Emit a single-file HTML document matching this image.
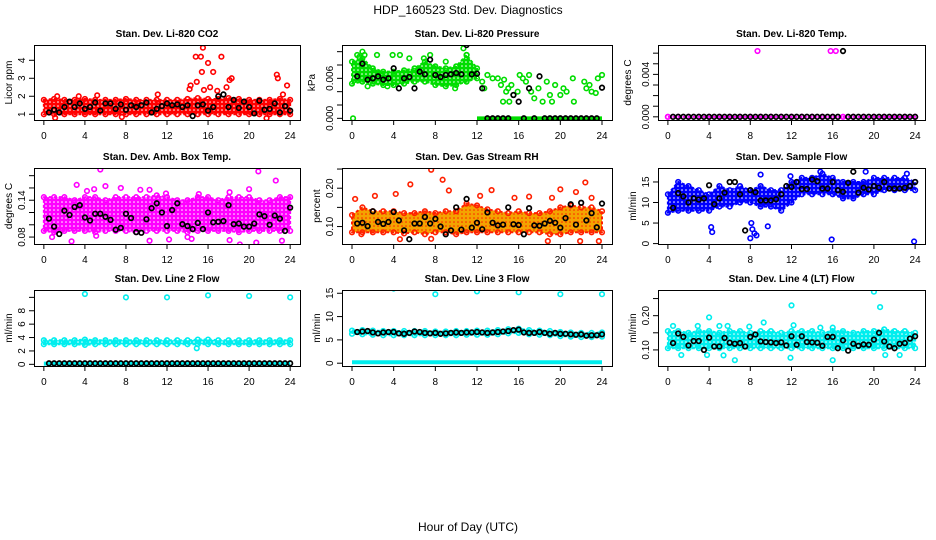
<!DOCTYPE html>
<html><head><meta charset="utf-8"><style>
html,body{margin:0;padding:0;background:#fff}
svg{display:block;font-family:"Liberation Sans",Arial,sans-serif}
</style></head><body>
<svg id="chart" width="936" height="540" viewBox="0 0 936 540" xmlns="http://www.w3.org/2000/svg">
<rect width="936" height="540" fill="#fff"/>
<text x="468" y="14" text-anchor="middle" font-size="12">HDP_160523  Std. Dev. Diagnostics</text>
<text x="468" y="531" text-anchor="middle" font-size="12">Hour of Day (UTC)</text>
</svg>
<script>
// ---------- data ----------
const xTicks = [0,4,8,12,16,20,24];
const hours = [0,1,2,3,4,5,6,7,8,9,10,11,12,13,14,15,16,17,18,19,20,21,22,23,24];
const blackTimes = [0.5,1,1.5,2,2.5,3,3.5,4,4.5,5,5.5,6,6.5,7,7.5,8,8.5,9,9.5,10,10.5,11,11.5,12,12.5,13,13.5,14,14.5,15,15.5,16,16.5,17,17.5,18,18.5,19,19.5,20,20.5,21,21.5,22,22.5,23,23.5,24];

// Panel 1: CO2
const co2Lo = [1.0,1.0,1.0,1.0,1.0,1.0,1.0,1.0,1.0,1.0,1.0,1.0,1.0,1.0,1.0,1.0,1.0,1.0,1.0,1.0,1.0,1.0,1.0,1.0,1.0];
const co2Hi = [1.8,1.85,1.8,1.8,1.85,1.8,1.8,1.8,1.85,1.8,1.8,1.8,1.8,1.8,1.85,1.9,1.85,1.85,1.9,1.85,1.8,1.8,1.8,1.85,1.8];
const co2OutX = [14.2,14.3,14.9,14.8,15.3,15.4,15.5,15.6,16,16.2,16.5,16.9,17.3,17.8,18.1,18.3,22.7,22.8,23.7,11.1,5.2,1.1,7.6,21.7,1.3,3.4,23.3];
const co2OutY = [2.4,2.6,2.8,4.2,4.2,3.35,4.7,2.35,3.85,2.5,3.35,2.3,4.2,2.5,2.9,3.0,3.2,3.0,2.6,2.1,2.05,0.8,0.85,0.78,2.0,2.0,2.1];
const co2Black = [1.1,1.25,1.1,1.4,1.7,1.4,1.6,1.3,1.4,1.65,1.2,1.6,1.6,1.3,1.55,1.25,1.5,1.4,1.5,1.65,1.1,1.3,1.45,1.6,1.5,1.55,1.4,1.5,0.9,1.5,1.55,1.2,1.4,2.0,2.1,1.4,1.8,1.35,1.7,1.4,1.05,1.75,1.25,1.3,1.6,1.1,1.45,1.2];

// Panel 2: Pressure
const prLo = [0.0052,0.0055,0.0052,0.005,0.005,0.0052,0.0055,0.0055,0.005,0.0048,0.005,0.0055,0.006,null,null,null,null,null,null,null,null,null,null,null,null];
const prHi = [0.0085,0.009,0.0075,0.007,0.007,0.0072,0.0075,0.0085,0.0078,0.0075,0.0078,0.0095,0.0075,null,null,null,null,null,null,null,null,null,null,null,null];
const prOutX = [0.1,0.5,0.7,1,1.2,2.4,3.9,4.6,5.5,6.9,7.5,9,10.7,11,9.9,3.4,1.5,12.5,12.7,13,14,14.3,14.6,14.8,15,15.3,15.5,15.9,16.1,16.4,16.7,17,17.2,17.5,17.9,18.3,18.7,19,19.2,19.5,20,20.3,20.6,21.3,21.2,22.3,22.5,22.8,23,23.4,23.6,24,13.5,14.5,15.1];
const prOutY = [0,0.0095,0.0092,0.01,0.0095,0.0095,0.0095,0.0095,0.009,0.009,0.0095,0.0085,0.0105,0.0095,0.0045,0.0048,0.0048,0.0055,0.0045,0.0065,0.006,0.005,0.0058,0.004,0.0045,0.005,0.0035,0.004,0.0065,0.006,0.0055,0.0065,0.004,0.003,0.0045,0.0025,0.0055,0.0035,0.0025,0.005,0.0035,0.0045,0.004,0.0025,0.006,0.0055,0.0045,0.005,0.004,0.0038,0.006,0.0065,0.006,0.0025,0.0025];
const prZeroLo = [null,null,null,null,null,null,null,null,null,null,null,null,0,0,0,0,0,0,0,0,0,0,0,0,0];
const prBlack = [0.0063,0.0082,0.0058,0.006,0.0063,0.0058,0.006,0.0075,0.0045,0.006,0.0062,0.0045,0.007,0.0066,0.0088,0.0065,0.0062,0.0065,0.0066,0.0068,0.0066,0.011,0.0066,0.0067,0.0045,0,0,0,0,0,0.0035,0.0025,0,0.0045,0,0.0063,0,0,0,0,0,0,0,0,0,0,0,0.0046];

// Panel 3: Temp
const tLo = [0,0,0,0,0,0,0,0,0,0,0,0,0,0,0,0,0,0,0,0,0,0,0,0,0];
const tHi = [0,0,0,0,0,0,0,0,0,0,0,0,0,0,0,0,0,0,0,0,0,0,0,0,0];
const tOutX = [8.7,15.8,16.3];
const tOutY = [0.0062,0.0062,0.0062];
const tBlack = [0,0,0,0,0,0,0,0,0,0,0,0,0,0,0,0,0,0,0,0,0,0,0,0,0,0,0,0,0,0,0,0,0,0.0062,0,0,0,0,0,0,0,0,0,0,0,0,0,0];

// Panel 4: Amb box temp
const abLo = [0.09,0.088,0.09,0.09,0.09,0.088,0.09,0.09,0.09,0.088,0.09,0.09,0.09,0.09,0.088,0.09,0.09,0.09,0.09,0.088,0.09,0.09,0.09,0.09,0.09];
const abHi = [0.145,0.145,0.145,0.14,0.145,0.145,0.14,0.145,0.145,0.145,0.145,0.148,0.145,0.14,0.14,0.145,0.145,0.14,0.145,0.145,0.145,0.14,0.14,0.145,0.145];
const abOutX = [5.5,3.2,6,4.2,4.9,7.5,9.4,10.3,18.1,20,20.9,22.6,15.1,11.9,0.8,2.7,10.3,12.2,14.4,18.1,19.1,20.7,23.2,5.1,1.2,14];
const abOutY = [0.19,0.165,0.163,0.155,0.158,0.16,0.157,0.157,0.153,0.158,0.187,0.172,0.15,0.151,0.08,0.073,0.074,0.076,0.077,0.075,0.068,0.071,0.074,0.082,0.09,0.08];
const abBlack = [0.11,0.097,0.085,0.123,0.116,0.129,0.132,0.112,0.107,0.118,0.118,0.113,0.108,0.092,0.095,0.118,0.111,0.088,0.087,0.109,0.127,0.135,0.12,0.098,0.124,0.135,0.101,0.098,0.093,0.103,0.093,0.12,0.104,0.105,0.106,0.132,0.101,0.102,0.097,0.097,0.102,0.117,0.114,0.1,0.115,0.11,0.09,0.128];

// Panel 5: Gas stream RH
const rhLo = [0.085,0.085,0.085,0.085,0.085,0.082,0.085,0.08,0.085,0.085,0.08,0.085,0.085,0.085,0.085,0.085,0.085,0.085,0.085,0.08,0.08,0.085,0.085,0.085,0.085];
const rhHi = [0.13,0.15,0.14,0.14,0.14,0.135,0.135,0.14,0.135,0.14,0.14,0.16,0.155,0.145,0.14,0.135,0.14,0.135,0.135,0.14,0.15,0.155,0.15,0.15,0.14];
const rhOutX = [0.3,2.2,4.2,5.6,7.6,8.7,9.3,13.4,12.3,15.6,17,19.2,20,21.5,22.4,23,18.8,21.9,23.7,4.6,7.6,0.9];
const rhOutY = [0.172,0.18,0.185,0.21,0.248,0.222,0.194,0.195,0.18,0.175,0.178,0.175,0.197,0.19,0.215,0.175,0.062,0.062,0.062,0.067,0.068,0.08];
const rhBlack = [0.108,0.11,0.101,0.14,0.112,0.107,0.112,0.138,0.116,0.09,0.067,0.108,0.108,0.125,0.108,0.12,0.1,0.08,0.09,0.15,0.092,0.172,0.097,0.11,0.093,0.137,0.11,0.103,0.105,0.15,0.106,0.104,0.08,0.148,0.103,0.102,0.108,0.115,0.11,0.097,0.122,0.158,0.105,0.162,0.116,0.135,0.098,0.16];

// Panel 6: Sample flow
const sfLo = [7.5,8,8,8,8,9,9,10,10,9,9,8,10,12,12,12,12,11,11,12,12,13,13,13,13];
const sfHi = [12,15,14,13,12,14,13,14,13,14,13,13,15,16,16,17,16,15,15,15,16,16,16,16,15];
const sfOutX = [4.2,4.3,8,8.1,8.2,8.4,8.6,9.7,15.9,23.9,9,11.9,14.8,19.2,23.2];
const sfOutY = [4,2.8,1.3,5,3.5,2.5,2,4.2,1,0.5,16.8,16.4,17.5,17.5,17];
const sfBlack = [8.7,12.3,11.5,10,11,10.7,11,14.2,9.6,11,12.4,15,15,12,3.2,13,12.5,10.5,10.5,10.5,10.8,12,14,13.8,15,13.3,13.3,15.6,15.2,13.4,13.4,15,13,12.6,14.8,17.5,12.4,13.6,13.2,14,13.6,15,13.4,13.4,13.4,13.6,14,15];

// Panel 7: Line 2 flow
const l2Lo = [3.0,3.0,3.0,3.0,2.9,3.0,3.0,3.0,3.0,3.0,3.0,3.0,3.0,3.0,3.0,3.0,3.0,3.0,3.0,3.0,3.0,3.0,3.0,3.0,3.0];
const l2Hi = [3.6,3.6,3.6,3.6,3.7,3.6,3.6,3.6,3.6,3.6,3.6,3.6,3.6,3.6,3.6,3.7,3.7,3.6,3.6,3.6,3.6,3.6,3.6,3.6,3.6];
const l2Base = [0.1,0.1,0.1,0.1,0.1,0.1,0.1,0.1,0.1,0.1,0.1,0.1,0.1,0.1,0.1,0.1,0.1,0.1,0.1,0.1,0.1,0.1,0.1,0.1,0.1];
const l2OutX = [4,8,12,16,20,24,14.9];
const l2OutY = [10.5,10,10,10.3,10.2,10,2.4];
const l2Black = [0.15,0.15,0.15,0.15,0.15,0.15,0.15,0.15,0.15,0.15,0.15,0.15,0.15,0.15,0.15,0.15,0.15,0.15,0.15,0.15,0.15,0.15,0.15,0.15,0.15,0.15,0.15,0.15,0.15,0.15,0.15,0.15,0.15,0.15,0.15,0.15,0.15,0.15,0.15,0.15,0.15,0.15,0.15,0.15,0.15,0.15,0.15,0.15];

// Panel 8: Line 3 flow
const l3Lo = [6.3,6.2,6.1,6.0,6.0,6.0,6.0,6.0,6.0,6.0,6.0,6.1,6.1,6.1,6.2,6.4,6.5,6.2,6.1,6.0,5.8,5.7,5.6,5.6,5.7];
const l3Hi = [7.0,7.1,7.0,6.9,6.9,6.9,6.9,6.9,6.8,6.8,6.9,6.9,7.0,7.0,7.1,7.3,7.4,7.1,7.0,6.9,6.7,6.6,6.5,6.5,6.6];
const l3Base = [0.2,0.2,0.2,0.2,0.2,0.2,0.2,0.2,0.2,0.2,0.2,0.2,0.2,0.2,0.2,0.2,0.2,0.2,0.2,0.2,0.2,0.2,0.2,0.2,0.2];
const l3OutX = [4,8,12,16,20,24];
const l3OutY = [16,14.8,15.4,15.2,14.8,14.8];
const l3Black = [6.7,6.8,6.9,6.6,6.4,6.6,6.7,6.7,6.4,6.3,6.5,6.8,6.7,6.5,6.4,6.5,6.3,6.4,6.5,6.6,6.5,6.6,6.6,6.7,6.6,6.5,6.6,6.7,6.8,6.9,7.1,7.2,6.6,6.5,6.5,6.7,6.5,6.3,6.5,6.3,6.3,6.2,6.1,6.2,5.9,6.0,6.0,6.2];

// Panel 9: Line 4 flow
const l4Lo = [0.105,0.105,0.105,0.105,0.105,0.105,0.105,0.105,0.105,0.105,0.105,0.105,0.105,0.105,0.105,0.105,0.105,0.105,0.105,0.105,0.105,0.105,0.105,0.105,0.105];
const l4Hi = [0.155,0.155,0.15,0.155,0.155,0.15,0.155,0.155,0.15,0.155,0.155,0.15,0.155,0.155,0.155,0.15,0.155,0.155,0.15,0.155,0.155,0.16,0.155,0.155,0.15];
const l4OutX = [0.5,2.9,4,5,5.8,7.9,9.3,12,14.8,16,20,20.6,12.2,1.3,3.8,5.4,6.5,11.9,16,21.1,22.5];
const l4OutY = [0.17,0.17,0.195,0.17,0.17,0.168,0.18,0.23,0.165,0.165,0.27,0.225,0.172,0.085,0.085,0.084,0.07,0.077,0.07,0.085,0.085];
const l4Black = [0.12,0.148,0.138,0.113,0.126,0.126,0.1,0.136,0.11,0.11,0.135,0.121,0.118,0.12,0.11,0.138,0.145,0.125,0.123,0.122,0.12,0.122,0.113,0.14,0.115,0.14,0.123,0.122,0.121,0.112,0.138,0.138,0.105,0.128,0.098,0.118,0.112,0.116,0.115,0.13,0.15,0.125,0.11,0.105,0.118,0.12,0.133,0.14];

// tick values / labels
const yT1=[1,2,3,4], yL1=['1','2','3','4'];
const yT2=[0,0.002,0.004,0.006,0.008,0.010], yL2=['0.000','','','0.006','',''];
const yT3=[0,0.001,0.002,0.003,0.004,0.005,0.006], yL3=['0.000','','','','0.004','',''];
const yT4=[0.08,0.10,0.12,0.14,0.16,0.18], yL4=['0.08','','','0.14','',''];
const yT5=[0.10,0.15,0.20,0.25], yL5=['0.10','','0.20',''];
const yT6=[0,5,10,15], yL6=['0','5','10','15'];
const yT7=[0,2,4,6,8,10], yL7=['0','2','4','6','8',''];
const yT8=[0,5,10,15], yL8=['0','5','10','15'];
const yT9=[0.10,0.15,0.20,0.25], yL9=['0.10','','0.20',''];

// ---------- layout ----------
const NS='http://www.w3.org/2000/svg';
const svg=document.getElementById('chart');
const defs=document.createElementNS(NS,'defs');svg.appendChild(defs);
const cols=[[34,300],[342,612],[658,925]];
const rows=[[45,120],[168,244],[290,366]];
const panels=[
 {key:'co2',title:'Stan. Dev. Li-820 CO2',yl:'Licor ppm',c:0,r:0,ymin:0.68,ymax:4.85,col:'#ff0000',lo:co2Lo,hi:co2Hi,ox:co2OutX,oy:co2OutY,bk:co2Black,yt:yT1,ylab:yL1},
 {key:'pressure',title:'Stan. Dev. Li-820 Pressure',yl:'kPa',c:1,r:0,ymin:-0.00025,ymax:0.011,col:'#00dd00',lo:prLo,hi:prHi,base:prZeroLo,ox:prOutX,oy:prOutY,bk:prBlack,yt:yT2,ylab:yL2},
 {key:'temp',title:'Stan. Dev. Li-820 Temp.',yl:'degrees C',c:2,r:0,ymin:-0.0003,ymax:0.00677,col:'#ff00ff',lo:tLo,hi:tHi,ox:tOutX,oy:tOutY,bk:tBlack,yt:yT3,ylab:yL3},
 {key:'ambbox',title:'Stan. Dev. Amb. Box Temp.',yl:'degrees C',c:0,r:1,ymin:0.0687,ymax:0.1925,col:'#ff00ff',lo:abLo,hi:abHi,ox:abOutX,oy:abOutY,bk:abBlack,yt:yT4,ylab:yL4},
 {key:'rh',title:'Stan. Dev. Gas Stream RH',yl:'percent',c:1,r:1,ymin:0.0545,ymax:0.2527,col:'#f4a300',edge:'#ff2000',lo:rhLo,hi:rhHi,ox:rhOutX,oy:rhOutY,bk:rhBlack,yt:yT5,ylab:yL5},
 {key:'sampleflow',title:'Stan. Dev. Sample Flow',yl:'ml/min',c:2,r:1,ymin:-0.1,ymax:18.4,col:'#0000ff',lo:sfLo,hi:sfHi,ox:sfOutX,oy:sfOutY,bk:sfBlack,yt:yT6,ylab:yL6},
 {key:'line2',title:'Stan. Dev. Line 2 Flow',yl:'ml/min',c:0,r:2,ymin:-0.25,ymax:11.1,col:'#00eeee',lo:l2Lo,hi:l2Hi,base:l2Base,ox:l2OutX,oy:l2OutY,bk:l2Black,yt:yT7,ylab:yL7},
 {key:'line3',title:'Stan. Dev. Line 3 Flow',yl:'ml/min',c:1,r:2,ymin:-0.6,ymax:15.7,col:'#00eeee',lo:l3Lo,hi:l3Hi,base:l3Base,ox:l3OutX,oy:l3OutY,bk:l3Black,yt:yT8,ylab:yL8},
 {key:'line4',title:'Stan. Dev. Line 4 (LT) Flow',yl:'ml/min',c:2,r:2,ymin:0.053,ymax:0.275,col:'#00eeee',lo:l4Lo,hi:l4Hi,ox:l4OutX,oy:l4OutY,bk:l4Black,yt:yT9,ylab:yL9}
];
function mk(tag,attrs,parent){const e=document.createElementNS(NS,tag);for(const k in attrs)e.setAttribute(k,attrs[k]);(parent||svg).appendChild(e);return e;}

panels.forEach(p=>{
 const [x0,x1]=cols[p.c],[y0,y1]=rows[p.r];
 const xs=v=>x0+(v+0.96)/25.92*(x1-x0);
 const ys=v=>y1-(v-p.ymin)/(p.ymax-p.ymin)*(y1-y0);
 const edge=p.edge||p.col;
 // texture pattern
 const pat=mk('pattern',{id:'pat-'+p.key,patternUnits:'userSpaceOnUse',width:4,height:4},defs);
 mk('rect',{width:4,height:4,fill:p.col},pat);
 mk('circle',{cx:2,cy:2,r:0.8,fill:p.edge?edge:'#fff'},pat);
 const g=mk('g',{});
 
 
 const clipId='clip-'+p.key;
 const cp=mk('clipPath',{id:clipId},g);mk('rect',{x:x0,y:y0,width:x1-x0,height:y1-y0},cp);
 const pg=mk('g',{'clip-path':'url(#'+clipId+')'},g);
 // band
 let top=[],bot=[];
 hours.forEach((h,i)=>{if(p.lo[i]!==null){top.push(xs(h)+','+ys(p.hi[i]));bot.unshift(xs(h)+','+ys(p.lo[i]));}});
 if(top.length){
  const band=mk('polygon',{points:top.concat(bot).join(' '),fill:'url(#pat-'+p.key+')',stroke:edge,'stroke-width':2,'stroke-linejoin':'round','stroke-dasharray':'3 2'},pg);
  
  
 }
 // baseline series
 if(p.base){
  let pts=[];hours.forEach((h,i)=>{if(p.base[i]!==null)pts.push(xs(h)+','+ys(p.base[i]));});
  const bl=mk('polyline',{points:pts.join(' '),fill:'none',stroke:p.col,'stroke-width':4},pg);
  
  
 }
 // band edge circles
 hours.forEach((h,i)=>{if(p.lo[i]===null)return;[p.lo[i],p.hi[i]].forEach(v=>{
  const c=mk('circle',{cx:xs(h),cy:ys(v),r:2.3,fill:'none',stroke:edge,'stroke-width':1.6},pg);
  
  
 });});
 // outliers
 p.ox.forEach((x,i)=>{
  const c=mk('circle',{cx:xs(x),cy:ys(p.oy[i]),r:2.3,fill:'none',stroke:edge,'stroke-width':1.6},pg);
  
  
 });
 // black
 p.bk.forEach((v,i)=>{
  const c=mk('circle',{cx:xs(blackTimes[i]),cy:ys(v),r:2.3,fill:'none',stroke:'#000','stroke-width':1.7},pg);
  
  
 });
 // frame
 const fr=mk('rect',{x:x0+0.5,y:y0+0.5,width:x1-x0,height:y1-y0,fill:'none',stroke:'#000','stroke-width':1},g);
 
 
 // title
 const t=mk('text',{x:(x0+x1)/2,y:y0-8,'text-anchor':'middle','font-size':10,'font-weight':'bold'},g);
 t.textContent=p.title;
 
 
 // x axis
 const lx=xs(xTicks[0]),rx=xs(xTicks[xTicks.length-1]);
 mk('line',{x1:lx,y1:y1+0.5,x2:rx,y2:y1+0.5,stroke:'#000'},g);
 xTicks.forEach(v=>{
  mk('line',{x1:xs(v),y1:y1,x2:xs(v),y2:y1+5,stroke:'#000'},g);
  const tl=mk('text',{x:xs(v),y:y1+19,'text-anchor':'middle','font-size':10},g);
  tl.textContent=v;
  
  
 });
 // y axis
 mk('line',{x1:x0+0.5,y1:ys(p.yt[0]),x2:x0+0.5,y2:ys(p.yt[p.yt.length-1]),stroke:'#000'},g);
 p.yt.forEach((v,i)=>{
  const yy=ys(v);
  mk('line',{x1:x0-5,y1:yy,x2:x0,y2:yy,stroke:'#000'},g);
  if(p.ylab[i]){
   const tl=mk('text',{x:x0-9,y:yy,'text-anchor':'middle','font-size':10,transform:'rotate(-90 '+(x0-9)+' '+yy+')'},g);
   tl.textContent=p.ylab[i];
   
   
  }
 });
 const ym=(y0+y1)/2, yx=x0-(p.yt[0]<0.01&&p.ylab[0].length>3?27:22);
 const yt=mk('text',{x:yx,y:ym,'text-anchor':'middle','font-size':10,transform:'rotate(-90 '+yx+' '+ym+')'},g);
 yt.textContent=p.yl;
 
 
});
</script>
</body></html>
